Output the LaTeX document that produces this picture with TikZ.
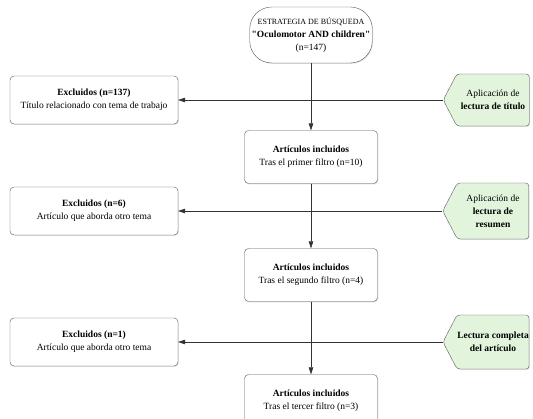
\documentclass[tikz,border=0pt]{standalone}
\usepackage{fontspec}
\setmainfont{Liberation Serif}
\usetikzlibrary{arrows.meta,shapes.symbols,shadows}
\definecolor{verdeclaro}{RGB}{226,244,220}
\definecolor{borde}{RGB}{90,90,90}
\tikzset{>={Triangle[length=7pt,width=4.5pt]},
         every node/.style={font=\fontsize{9.5}{13}\selectfont, align=center},
         sombra/.style={drop shadow={shadow xshift=0.8pt, shadow yshift=-0.8pt, opacity=0.25}},
         caja/.style={draw=borde, fill=white, rounded corners=4pt, sombra,
                      minimum width=133pt, minimum height=53pt, inner sep=2pt},
         excluido/.style={caja, minimum width=168pt, minimum height=48pt},
         inicio/.style={caja, rounded corners=22pt, minimum width=120pt, minimum height=56pt},
         filtro/.style={signal, signal to=west, signal pointer angle=125, draw=borde,
                        fill=verdeclaro, rounded corners=3pt, sombra,
                        minimum width=86pt, minimum height=54pt, inner xsep=-4pt, inner ysep=1pt},
         flecha/.style={->, draw=black!80, line width=0.6pt}}

\begin{document}
\begin{tikzpicture}[x=1pt, y=1pt]
  \clip (0,0) rectangle (533,-419);
  % flujo central
  \node[inicio] (busq) at (311,-35)
    {{\fontsize{8}{13}\selectfont ESTRATEGIA DE BÚSQUEDA}\\
     \textbf{\textquotedbl Oculomotor AND children\textquotedbl}\\ (n=147)};
  \node[caja] (incl1) at (311,-157) {\textbf{Artículos incluidos}\\ Tras el primer filtro (n=10)};
  \node[caja] (incl2) at (311,-275) {\textbf{Artículos incluidos}\\ Tras el segundo filtro (n=4)};
  \node[caja] (incl3) at (311,-401) {\textbf{Artículos incluidos}\\ Tras el tercer filtro (n=3)};
  % excluidos
  \node[excluido] (excl1) at (94,-100) {\textbf{Excluidos (n=137)}\\ Título relacionado con tema de trabajo};
  \node[excluido] (excl2) at (94,-211) {\textbf{Excluidos (n=6)}\\ Artículo que aborda otro tema};
  \node[excluido] (excl3) at (94,-342) {\textbf{Excluidos (n=1)}\\ Artículo que aborda otro tema};
  % filtros
  \node[filtro, minimum height=52pt] (filt1) at (493,-100) {Aplicación de\\ \textbf{lectura de título}};
  \node[filtro, minimum height=56pt] (filt2) at (493,-211) {Aplicación de\\ \textbf{lectura de}\\ \textbf{resumen}};
  \node[filtro] (filt3) at (493,-342) {\textbf{Lectura completa}\\ \textbf{del artículo}};
  % conectores
  \draw[flecha] (filt1.west) -- (excl1.east);
  \draw[flecha] (filt2.west) -- (excl2.east);
  \draw[flecha] (filt3.west) -- (excl3.east);
  \draw[flecha] (busq) -- (incl1);
  \draw[flecha] (incl1) -- (incl2);
  \draw[flecha] (incl2) -- (incl3);
\end{tikzpicture}
\end{document}
